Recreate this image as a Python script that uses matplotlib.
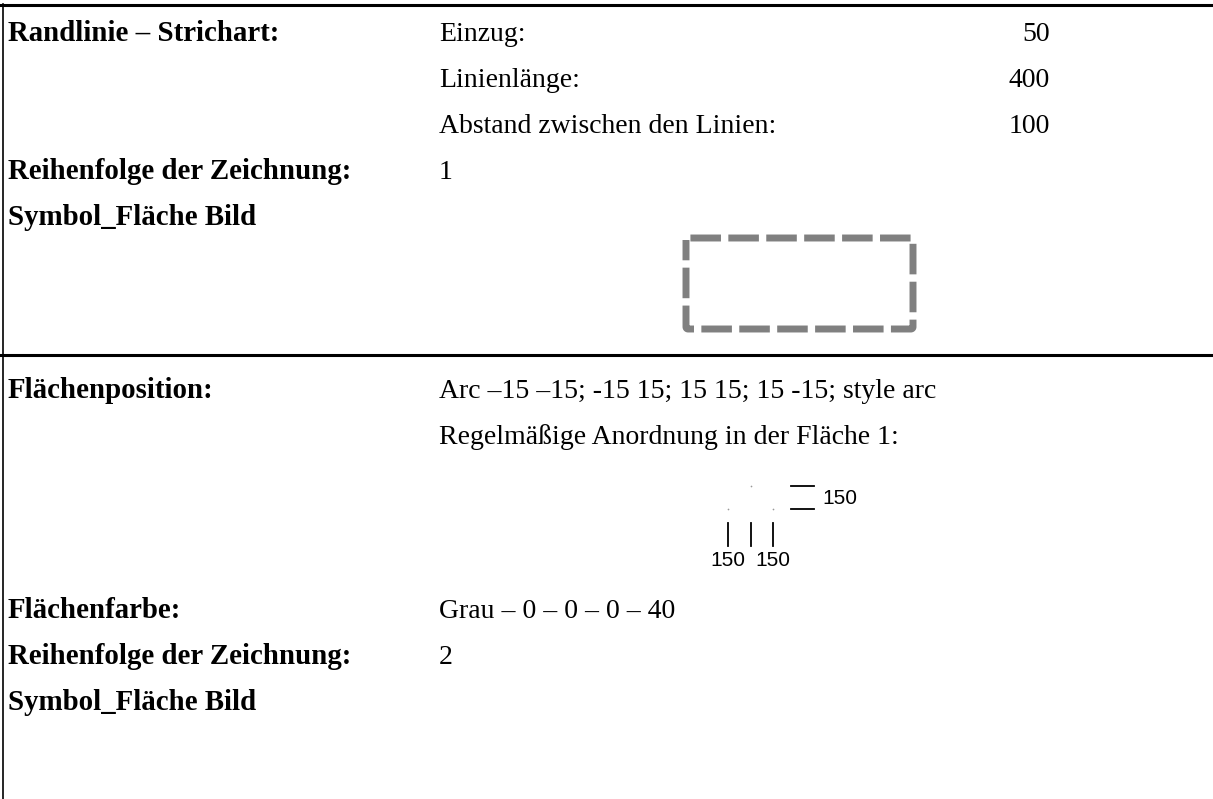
import matplotlib
matplotlib.use("Agg")
import matplotlib.pyplot as plt
from matplotlib.lines import Line2D
import numpy as np

plt.rcParams['lines.scale_dashes'] = False

# ---- content ----
section1_labels = ["Randlinie – Strichart:", "Reihenfolge der Zeichnung:", "Symbol_Fläche Bild"]
section1_label_rows = [0, 3, 4]
param_names = ["Einzug:", "Linienlänge:", "Abstand zwischen den Linien:"]
param_values = ["50", "400", "100"]
draw_order_1 = "1"

section2_labels = ["Flächenposition:", "Flächenfarbe:", "Reihenfolge der Zeichnung:", "Symbol_Fläche Bild"]
arc_text = "Arc –15 –15; -15 15; 15 15; 15 -15; style arc"
arrangement_text = "Regelmäßige Anordnung in der Fläche 1:"
colour_text = "Grau – 0 – 0 – 0 – 40"
draw_order_2 = "2"
spacing_labels = ["150", "150", "150"]

W, H = 1213, 799
fig = plt.figure(figsize=(W / 100, H / 100), dpi=100)
ax = fig.add_axes([0, 0, 1, 1])
ax.set_xlim(0, W)
ax.set_ylim(H, 0)
ax.axis('off')

serif = ['Liberation Serif', 'DejaVu Serif']
sans = ['Liberation Sans', 'DejaVu Sans']
fs = 20
fsb = 20.8

# frame lines
ax.add_line(Line2D([0, W], [4.5, 4.5], color='black', lw=2.2))
ax.add_line(Line2D([0, W], [354.5, 354.5], color='black', lw=2.2))
ax.add_line(Line2D([3, 3], [4, H], color='black', lw=1.2))

# section 1
row_h = 46
base1 = 41
for lab, r in zip(section1_labels, section1_label_rows):
    ax.text(8, base1 + r * row_h, lab, family=serif, fontsize=fsb, weight='bold', va='baseline', ha='left')
for i, (n, v) in enumerate(zip(param_names, param_values)):
    ax.text(439, base1 + i * row_h, n, family=serif, fontsize=fs, va='baseline', ha='left')
    ax.text(1050, base1 + i * row_h, v, family=serif, fontsize=fs, va='baseline', ha='right')
ax.text(439, base1 + 3 * row_h, draw_order_1, family=serif, fontsize=fs, va='baseline', ha='left')

# dashed rounded rectangle symbol
x0, x1, y0, y1, rr = 686, 913, 238, 329, 2
t = np.linspace(0, np.pi / 2, 6)
xs, ys = [], []
# top-left corner -> clockwise
xs += list(x0 + rr - rr * np.cos(t)); ys += list(y0 + rr - rr * np.sin(t))
xs += list(x1 - rr + rr * np.sin(t)); ys += list(y0 + rr - rr * np.cos(t))
xs += list(x1 - rr + rr * np.cos(t)); ys += list(y1 - rr + rr * np.sin(t))
xs += list(x0 + rr - rr * np.sin(t)); ys += list(y1 - rr + rr * np.cos(t))
xs.append(xs[0]); ys.append(ys[0])
ax.add_line(Line2D(xs, ys, color='#808080', lw=5.0, linestyle=(-4.0, (22.0, 5.3)),
                   dash_capstyle='butt', solid_joinstyle='miter'))

# section 2
base2 = 398
sec2_baselines = [base2, 618, 664, 710]
for lab, b in zip(section2_labels, sec2_baselines):
    ax.text(8, b, lab, family=serif, fontsize=fsb, weight='bold', va='baseline', ha='left')
ax.text(439, base2, arc_text, family=serif, fontsize=fs, va='baseline', ha='left')
ax.text(439, base2 + row_h, arrangement_text, family=serif, fontsize=fs, va='baseline', ha='left')
ax.text(439, 618, colour_text, family=serif, fontsize=fs, va='baseline', ha='left')
ax.text(439, 664, draw_order_2, family=serif, fontsize=fs, va='baseline', ha='left')

# regular arrangement pattern
dots_x = [728, 751, 773]
dots_y = [509, 486, 509]
ax.scatter(dots_x, dots_y, s=1.5, color='#999999', linewidths=0)
for x in dots_x:
    ax.add_line(Line2D([x, x], [523, 546], color='black', lw=1.3))
for y in [486, 509]:
    ax.add_line(Line2D([791, 814], [y, y], color='black', lw=1.3))
ax.text(822, 498, spacing_labels[0], family=sans, fontsize=15, va='center', ha='left')
ax.text(728, 561, spacing_labels[1], family=sans, fontsize=15, va='center', ha='center')
ax.text(773, 561, spacing_labels[2], family=sans, fontsize=15, va='center', ha='center')

fig.savefig("out.png", dpi=100, facecolor='white')
